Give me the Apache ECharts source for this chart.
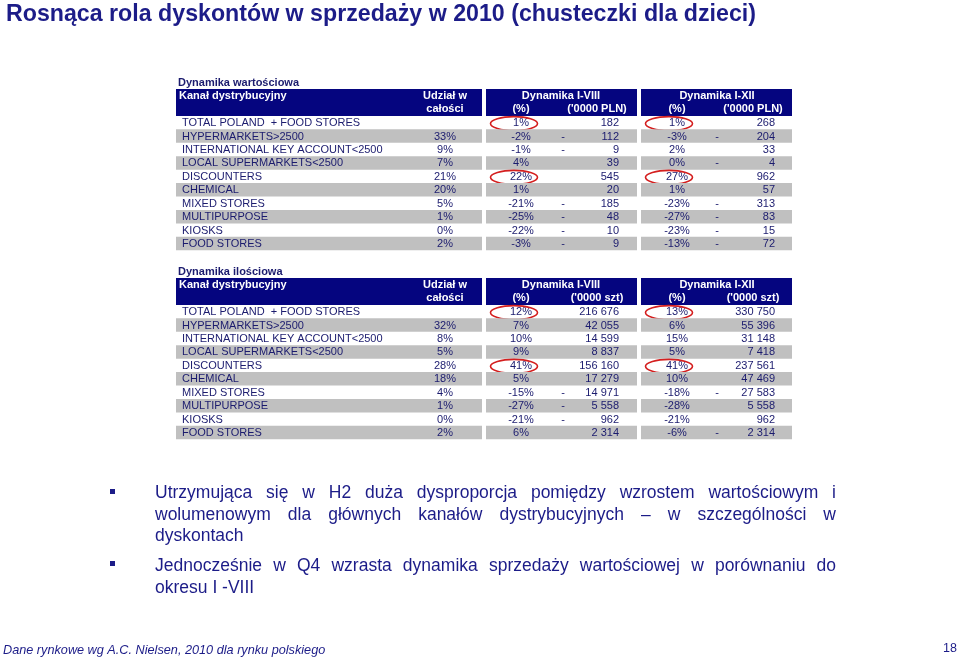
<!DOCTYPE html>
<html><head><meta charset="utf-8">
<script src="https://cdn.jsdelivr.net/npm/echarts@6/dist/echarts.min.js"></script>
<style>html,body{margin:0;padding:0;background:#fff}#c{width:959px;height:658px}</style>
</head><body><div id="c"></div>
<script>
// ---------- DATA ----------
const channels = ['TOTAL POLAND  + FOOD STORES','HYPERMARKETS>2500','INTERNATIONAL KEY ACCOUNT<2500','LOCAL SUPERMARKETS<2500','DISCOUNTERS','CHEMICAL','MIXED STORES','MULTIPURPOSE','KIOSKS','FOOD STORES'];
// Table 1: Dynamika wartościowa
const valShare = [null,33,9,7,21,20,5,1,0,2];
const valPct8  = [1,-2,-1,4,22,1,-21,-25,-22,-3];
const valAbs8  = [182,-112,-9,39,545,20,-185,-48,-10,-9];
const valPct12 = [1,-3,2,0,27,1,-23,-27,-23,-13];
const valAbs12 = [268,-204,33,-4,962,57,-313,-83,-15,-72];
// Table 2: Dynamika ilościowa
const qtyShare = [null,32,8,5,28,18,4,1,0,2];
const qtyPct8  = [12,7,10,9,41,5,-15,-27,-21,6];
const qtyAbs8  = [216676,42055,14599,8837,156160,17279,-14971,-5558,-962,2314];
const qtyPct12 = [13,6,15,5,41,10,-18,-28,-21,-6];
const qtyAbs12 = [330750,55396,31148,7418,237561,47469,-27583,5558,962,-2314];
const highlightRows = [0,4];
const tableTitles = ['Dynamika wartościowa','Dynamika ilościowa'];
const unitLabels = ["('0000 PLN)","('0000 szt)"];
const pageTitle = 'Rosnąca rola dyskontów w sprzedaży w 2010 (chusteczki dla dzieci)';
const bulletLines = [
  ['Utrzymująca się w H2 duża dysproporcja pomiędzy wzrostem wartościowym i', true],
  ['wolumenowym dla głównych kanałów dystrybucyjnych – w szczególności w', true],
  ['dyskontach', false],
  ['Jednocześnie w Q4 wzrasta dynamika sprzedaży wartościowej w porównaniu do', true],
  ['okresu I -VIII', false]
];
const footerText = 'Dane rynkowe wg A.C. Nielsen, 2010 dla rynku polskiego';
const pageNo = '18';

// ---------- STYLE / LAYOUT ----------
const NAVY = '#05057f', TXT = '#1b1b6e', GREY = '#c0c0c0', TITLE = '#1c1c88';
const FONT = '"Liberation Sans", Arial, sans-serif';
const COL = {name:182, share:445, pct8:521, dash8:563, abs8:619, pct12:677, dash12:717, abs12:775,
  hdr8:561, unit8:597, hdr12:717, unit12:753};
const BANDS = [[176,482],[486,637],[641,792]];

function fmtNum(v){ return String(Math.abs(v)).replace(/\B(?=(\d{3})+(?!\d))/g,' '); }

const tables = [
  {share:valShare,p8:valPct8,a8:valAbs8,p12:valPct12,a12:valAbs12},
  {share:qtyShare,p8:qtyPct8,a8:qtyAbs8,p12:qtyPct12,a12:qtyAbs12}
];

function txt(text,x,y,align,bold,color,size){
  return {type:'text', style:{text:text, x:x, y:y, align:align, verticalAlign:'middle',
    font:(bold?'bold ':'')+(size||11)+'px '+FONT, fill:color||TXT}};
}

function bodyRender(t){
  const T = tables[t];
  return function(params, api){
    const i = params.dataIndex;
    const yc = api.coord([0, i+2])[1];
    const h = api.size([0,1])[1];
    const X = v => api.coord([v, 0])[0];
    const ch = [];
    if (i % 2 === 1) BANDS.forEach(b => ch.push({type:'rect',
      shape:{x:X(b[0]), y:yc-h/2, width:X(b[1])-X(b[0]), height:h}, style:{fill:GREY}}));
    const ty = yc + 0.5;
    ch.push(txt(channels[i], X(COL.name), ty, 'left'));
    if (T.share[i] !== null) ch.push(txt(T.share[i]+'%', X(COL.share), ty, 'center'));
    ch.push(txt(T.p8[i]+'%', X(COL.pct8), ty, 'center'));
    if (T.a8[i] < 0) ch.push(txt('-', X(COL.dash8), ty, 'center'));
    ch.push(txt(fmtNum(T.a8[i]), X(COL.abs8), ty, 'right'));
    ch.push(txt(T.p12[i]+'%', X(COL.pct12), ty, 'center'));
    if (T.a12[i] < 0) ch.push(txt('-', X(COL.dash12), ty, 'center'));
    ch.push(txt(fmtNum(T.a12[i]), X(COL.abs12), ty, 'right'));
    if (highlightRows.indexOf(i) >= 0) {
      [COL.pct8-7, COL.pct12-8].forEach(cx => ch.push({type:'ellipse',
        shape:{cx:X(cx), cy:yc+1, rx:23.5, ry:7}, style:{fill:null, stroke:'#d41f1f', lineWidth:1.6}}));
    }
    return {type:'group', children:ch};
  };
}

function headRender(t){
  return function(params, api){
    const h = api.size([0,1])[1];
    const y1 = api.coord([0,0])[1], y2 = api.coord([0,1])[1];
    const X = v => api.coord([v, 0])[0];
    const ch = [];
    BANDS.forEach(b => ch.push({type:'rect',
      shape:{x:X(b[0]), y:y1-h/2, width:X(b[1])-X(b[0]), height:2*h}, style:{fill:NAVY}}));
    ch.push(txt(tableTitles[t], X(COL.name-4), y1-h+1, 'left', true, TXT, 11));
    const W = '#ffffff';
    ch.push(txt('Kanał dystrybucyjny', X(COL.name-3), y1, 'left', true, W, 11));
    ch.push(txt('Udział w', X(COL.share), y1, 'center', true, W, 11));
    ch.push(txt('całości', X(COL.share), y2, 'center', true, W, 11));
    ch.push(txt('Dynamika I-VIII', X(COL.hdr8), y1, 'center', true, W, 11));
    ch.push(txt('(%)', X(COL.pct8), y2, 'center', true, W, 11));
    ch.push(txt(unitLabels[t], X(COL.unit8), y2, 'center', true, W, 11));
    ch.push(txt('Dynamika I-XII', X(COL.hdr12), y1, 'center', true, W, 11));
    ch.push(txt('(%)', X(COL.pct12), y2, 'center', true, W, 11));
    ch.push(txt(unitLabels[t], X(COL.unit12), y2, 'center', true, W, 11));
    return {type:'group', children:ch};
  };
}

// ---------- justified bullet text ----------
const BFONT = '17.5px ' + FONT;
const cnv = document.createElement('canvas').getContext('2d');
cnv.font = BFONT;
const B_LEFT = 155, B_RIGHT = 836;
const bulletY = [493, 515, 536, 566, 588];
const graphics = [];
bulletLines.forEach((ln, k) => {
  const words = ln[0].split(' ');
  if (!ln[1]) {
    graphics.push({type:'text', x:B_LEFT, y:bulletY[k], style:{text:ln[0], font:BFONT, fill:TITLE, verticalAlign:'middle'}});
    return;
  }
  const ww = words.map(w => cnv.measureText(w).width);
  const total = ww.reduce((a,b)=>a+b,0);
  const gap = (B_RIGHT - B_LEFT - total) / (words.length - 1);
  let x = B_LEFT;
  words.forEach((w, j) => {
    graphics.push({type:'text', x:x, y:bulletY[k], style:{text:w, font:BFONT, fill:TITLE, verticalAlign:'middle'}});
    x += ww[j] + gap;
  });
});
[492, 564].forEach(y => graphics.push({type:'rect', shape:{x:110, y:y-3, width:5, height:5}, style:{fill:TITLE}}));
graphics.push({type:'text', x:6, y:15, style:{text:pageTitle, font:'bold 23.2px '+FONT, fill:TITLE, verticalAlign:'middle'}});
graphics.push({type:'text', x:3, y:650, style:{text:footerText, font:'italic 12.7px '+FONT, fill:TITLE, verticalAlign:'middle'}});
graphics.push({type:'text', x:957, y:649, style:{text:pageNo, font:'12.5px '+FONT, fill:TITLE, align:'right', verticalAlign:'middle'}});

// ---------- chart ----------
const slots = Array.from({length:12}, (_, i) => String(i));
const tops = [89, 278];
const option = {
  animation:false,
  grid: tops.map(tp => ({left:0, right:0, top:tp, height:12*13.44})),
  xAxis: tops.map((_, g) => ({type:'value', gridIndex:g, min:0, max:959, show:false})),
  yAxis: tops.map((_, g) => ({type:'category', gridIndex:g, data:slots, inverse:true, show:false})),
  series: [0,1].flatMap(t => [
    {type:'custom', xAxisIndex:t, yAxisIndex:t, renderItem:headRender(t), data:[[0,0]], silent:true},
    {type:'custom', xAxisIndex:t, yAxisIndex:t, renderItem:bodyRender(t),
      data:channels.map((c,i)=>[0,i+2]), silent:true, z:3}
  ]),
  graphic: graphics
};
const chart = echarts.init(document.getElementById('c'), null, {renderer:'canvas'});
chart.setOption(option);
</script>
</body></html>
